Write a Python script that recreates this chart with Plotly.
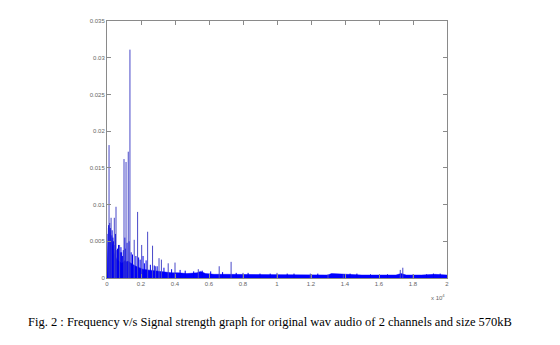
import plotly.graph_objects as go

# Frequencies in Hz, magnitudes as normalised signal strength
floor_freq = [0, 40, 80, 120, 180, 250, 320, 400, 480, 560, 650, 750, 850, 950,
              1050, 1150, 1250, 1350, 1450, 1550, 1700, 1900, 2100, 2400, 2700,
              3000, 3400, 3800, 4200, 4700, 5300, 5500, 5800, 6300, 7000, 7800,
              8500, 9200, 10000, 10700, 11200, 12000, 13000, 13200, 14000, 15000,
              16000, 17000, 17300, 17600, 18500, 19300, 20000]
floor_level = [0.0, 0.0045, 0.0068, 0.0070, 0.0062, 0.0052, 0.0042, 0.0035,
               0.0030, 0.0026, 0.0024, 0.0022, 0.0020, 0.0021, 0.0024, 0.0022,
               0.0023, 0.0021, 0.0019, 0.0018, 0.0016, 0.0014, 0.0012, 0.0011,
               0.0010, 0.0009, 0.0008, 0.0007, 0.0007, 0.0006, 0.0007, 0.0009,
               0.0006, 0.0005, 0.0005, 0.0005, 0.0004, 0.0004, 0.0004, 0.0004,
               0.0005, 0.0004, 0.0004, 0.0006, 0.0005, 0.0004, 0.0004, 0.0004,
               0.0006, 0.0004, 0.0004, 0.0005, 0.0004]

peak_freq = [120, 240, 430, 530, 740, 1000, 1120, 1250, 1350, 1600, 1800,
             2040, 2390, 2680, 2860, 3060, 3200, 3600, 4000, 5370, 6600, 7300,
             8000, 10000, 11960, 13000, 13900, 17250, 17400, 18000]
peak_amp = [0.0181, 0.0082, 0.0082, 0.0097, 0.0045, 0.0162, 0.0158, 0.0172,
            0.0311, 0.0052, 0.0090, 0.0045, 0.0063, 0.0044, 0.0016, 0.0027,
            0.0025, 0.0020, 0.0021, 0.0012, 0.0016, 0.0022, 0.0007, 0.0007,
            0.0006, 0.0005, 0.0005, 0.0011, 0.0014, 0.0005]

# Smaller spikes riding on the noise floor
minor_freq = [60, 90, 160, 200, 280, 300, 350, 380, 460, 500, 580, 620, 680,
              780, 820, 860, 920, 960, 1050, 1080, 1180, 1300, 1420, 1500,
              1700, 1860, 1950, 2120, 2200, 2300, 2550, 2780, 2950, 3350,
              3800, 4300, 4600, 5100, 5600, 6100, 6800, 7600, 8300, 9000,
              9600, 10600, 11000, 12400, 14300, 14700, 15500, 16500, 18800,
              19200, 19600]
minor_amp = [0.0060, 0.0072, 0.0075, 0.0068, 0.0058, 0.0065, 0.0055, 0.0050,
             0.0045, 0.0060, 0.0038, 0.0040, 0.0045, 0.0035, 0.0042, 0.0035,
             0.0030, 0.0038, 0.0055, 0.0040, 0.0048, 0.0050, 0.0035, 0.0032,
             0.0030, 0.0028, 0.0025, 0.0030, 0.0020, 0.0024, 0.0018, 0.0017,
             0.0016, 0.0014, 0.0012, 0.0011, 0.0010, 0.0009, 0.0010, 0.0009,
             0.0008, 0.0007, 0.0007, 0.0006, 0.0006, 0.0006, 0.0006, 0.0006,
             0.0006, 0.0006, 0.0005, 0.0005, 0.0005, 0.0006, 0.0006]

x_tick_vals = [0, 2000, 4000, 6000, 8000, 10000, 12000, 14000, 16000, 18000, 20000]
x_tick_text = ["0", "0.2", "0.4", "0.6", "0.8", "1", "1.2", "1.4", "1.6", "1.8", "2"]
y_tick_vals = [0, 0.005, 0.01, 0.015, 0.02, 0.025, 0.03, 0.035]
y_tick_text = ["0", "0.005", "0.01", "0.015", "0.02", "0.025", "0.03", "0.035"]

caption = "Fig. 2 : Frequency v/s Signal strength graph for original wav audio of 2 channels and size 570kB"


def stems(freqs, amps):
    xs, ys = [], []
    for f, a in zip(freqs, amps):
        xs += [f, f, None]
        ys += [0, a, None]
    return xs, ys


fig = go.Figure()

fig.add_trace(go.Scatter(
    x=floor_freq, y=floor_level, mode="lines", fill="tozeroy",
    line=dict(color="#0000ff", width=0.5), fillcolor="#0000ff",
    hoverinfo="skip", showlegend=False))

mx, my = stems(minor_freq, minor_amp)
fig.add_trace(go.Scatter(x=mx, y=my, mode="lines",
                         line=dict(color="#0000ee", width=1),
                         showlegend=False, hoverinfo="skip"))

px, py = stems(peak_freq, peak_amp)
fig.add_trace(go.Scatter(x=px, y=py, mode="lines",
                         line=dict(color="#4848c8", width=1),
                         showlegend=False, hoverinfo="skip"))

axis_common = dict(
    showgrid=False, zeroline=False, showline=True, mirror="ticks",
    linecolor="#8a8a8a", linewidth=1, ticks="inside", ticklen=4,
    tickcolor="#8a8a8a", tickfont=dict(family="Liberation Sans", size=6, color="#666666"),
)

fig.update_xaxes(range=[0, 20000], tickvals=x_tick_vals, ticktext=x_tick_text,
                 **axis_common)
fig.update_yaxes(range=[0, 0.035], tickvals=y_tick_vals, ticktext=y_tick_text,
                 **axis_common)

fig.add_annotation(text="x 10<sup>4</sup>", xref="paper", yref="paper",
                   x=1.0, y=-0.05, xanchor="right", yanchor="top",
                   showarrow=False,
                   font=dict(family="Liberation Sans", size=6, color="#666666"))

fig.add_annotation(text=caption, xref="paper", yref="paper",
                   x=(270 - 107) / 340, y=-(321.5 - 278) / 257, xanchor="center",
                   yanchor="middle", showarrow=False,
                   font=dict(family="Liberation Serif, Times New Roman, serif",
                             size=12.5, color="#000000"))

fig.update_layout(
    width=560, height=345,
    margin=dict(l=107, r=113, t=21, b=67),
    paper_bgcolor="white", plot_bgcolor="white",
)

fig.write_html("out.html")
